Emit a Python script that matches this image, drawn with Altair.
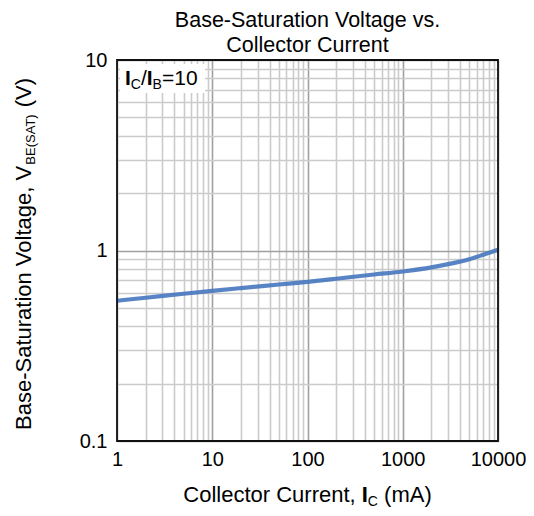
import altair as alt
import pandas as pd

# Data
ic_ma = [1, 2, 5, 10, 20, 50, 100, 200, 500, 1000, 2000, 3000, 5000, 7000, 10000]
vbe_sat = [0.545, 0.565, 0.593, 0.614, 0.635, 0.663, 0.685, 0.711, 0.748, 0.776,
           0.815, 0.848, 0.900, 0.950, 1.010]

x_grid = [m * 10 ** e for e in range(0, 4) for m in range(1, 10)] + [10000]
y_grid = [round(m * 10.0 ** e, 6) for e in (-1, 0) for m in range(1, 10)] + [10]
x_labels = [1, 10, 100, 1000, 10000]
y_labels = [0.1, 1, 10]

W, H = 381, 381
FONT = "Liberation Sans"
FS = 22
SUB = 14

df = pd.DataFrame({"ic": ic_ma, "v": vbe_sat})

x_major = "indexof([" + ",".join(str(v) for v in x_labels) + "], datum.value) >= 0"
y_major = "indexof([" + ",".join(str(v) for v in y_labels) + "], datum.value) >= 0"

line = alt.Chart(df).mark_line(color="#4677c0", strokeWidth=4.2, opacity=0.9,
                               interpolate="monotone").encode(
    x=alt.X("ic:Q",
            scale=alt.Scale(type="log", domain=[1, 10000], nice=False),
            axis=alt.Axis(values=x_grid, title=None, grid=True, ticks=False, domain=False,
                          labelExpr=x_major + " ? format(datum.value, '~g') : ''",
                          labelFont=FONT, labelFontSize=20, labelColor="black",
                          labelPadding=8, labelOverlap=False, labelBound=False,
                          labelFlush=False,
                          gridColor={"condition": {"test": x_major, "value": "#a0a0a0"},
                                     "value": "#cbcbcb"},
                          gridWidth=1.6)),
    y=alt.Y("v:Q",
            scale=alt.Scale(type="log", domain=[0.1, 10], nice=False),
            axis=alt.Axis(values=y_grid, title=None, grid=True, ticks=False, domain=False,
                          labelExpr=y_major + " ? format(datum.value, '~g') : ''",
                          labelFont=FONT, labelFontSize=20, labelColor="black",
                          labelPadding=10, labelOverlap=False, labelBound=False,
                          labelFlush=False,
                          gridColor={"condition": {"test": y_major, "value": "#a0a0a0"},
                                     "value": "#cbcbcb"},
                          gridWidth=1.6)),
)

one = pd.DataFrame({"a": [0]})


def txt(s, x, y, size=FS, bold=False, align="left", angle=0):
    kw = dict(text=s, font=FONT, fontSize=size, align=align, baseline="alphabetic",
              color="black", fontWeight="bold" if bold else "normal")
    if angle:
        kw["angle"] = angle
    return alt.Chart(one).mark_text(**kw).encode(x=alt.value(x), y=alt.value(y))


frame = alt.Chart(one).mark_rect(fill=None, stroke="#111", strokeWidth=1.8).encode(
    x=alt.value(0), x2=alt.value(W), y=alt.value(0), y2=alt.value(H))

box = alt.Chart(one).mark_rect(fill="white").encode(
    x=alt.value(3), x2=alt.value(88), y=alt.value(4), y2=alt.value(33))

layers = [line, frame, box]

# chart title
layers += [txt("Base-Saturation Voltage vs.", W / 2, -33, size=21.5, align="center"),
           txt("Collector Current", W / 2, -8, size=21.5, align="center")]

# x axis title: Collector Current, I_C (mA)
main_w = 8.113 * FS
total = main_w + 0.278 * FS + 0.722 * SUB + 0.278 * FS + 2.166 * FS
xs = W / 2 - total / 2
xb = 442
layers += [txt("Collector Current,", xs, xb),
           txt("I", xs + main_w, xb, bold=True),
           txt("C", xs + main_w + 0.278 * FS, xb + 3.5, size=SUB),
           txt("(mA)", xs + main_w + 0.278 * FS + 0.722 * SUB + 0.278 * FS, xb)]

# y axis title: Base-Saturation Voltage, V_BE(SAT) (V)
yb = -86
ys = 370
YSUB = 13
main_len = 12.062 * FS
sub_len = 3.945 * YSUB
layers += [txt("Base-Saturation Voltage, V", yb, ys, angle=270),
           txt("BE(SAT)", yb + 4, ys - main_len, size=YSUB, angle=270),
           txt("(V)", yb, ys - main_len - sub_len - 0.278 * FS, angle=270)]

# annotation I_C/I_B=10
AF = 21
ax, ay = 8, 25
layers += [txt("I", ax, ay, size=AF, bold=True),
           txt("C", ax + 0.278 * AF, ay + 4, size=SUB),
           txt("/", ax + 0.278 * AF + 0.722 * SUB, ay, size=AF),
           txt("I", ax + 0.556 * AF + 0.722 * SUB, ay, size=AF, bold=True),
           txt("B", ax + 0.834 * AF + 0.722 * SUB, ay + 4, size=SUB),
           txt("=10", ax + 0.834 * AF + 0.722 * SUB + 0.667 * SUB, ay, size=AF)]

chart = alt.layer(*layers).properties(
    width=W, height=H,
    padding={"left": 109, "top": 52, "right": 28, "bottom": 67},
    autosize=alt.AutoSizeParams(type="none"),
    background="white",
).configure_view(stroke=None)

chart.save("out.html", embed_options={"renderer": "svg", "actions": False})
